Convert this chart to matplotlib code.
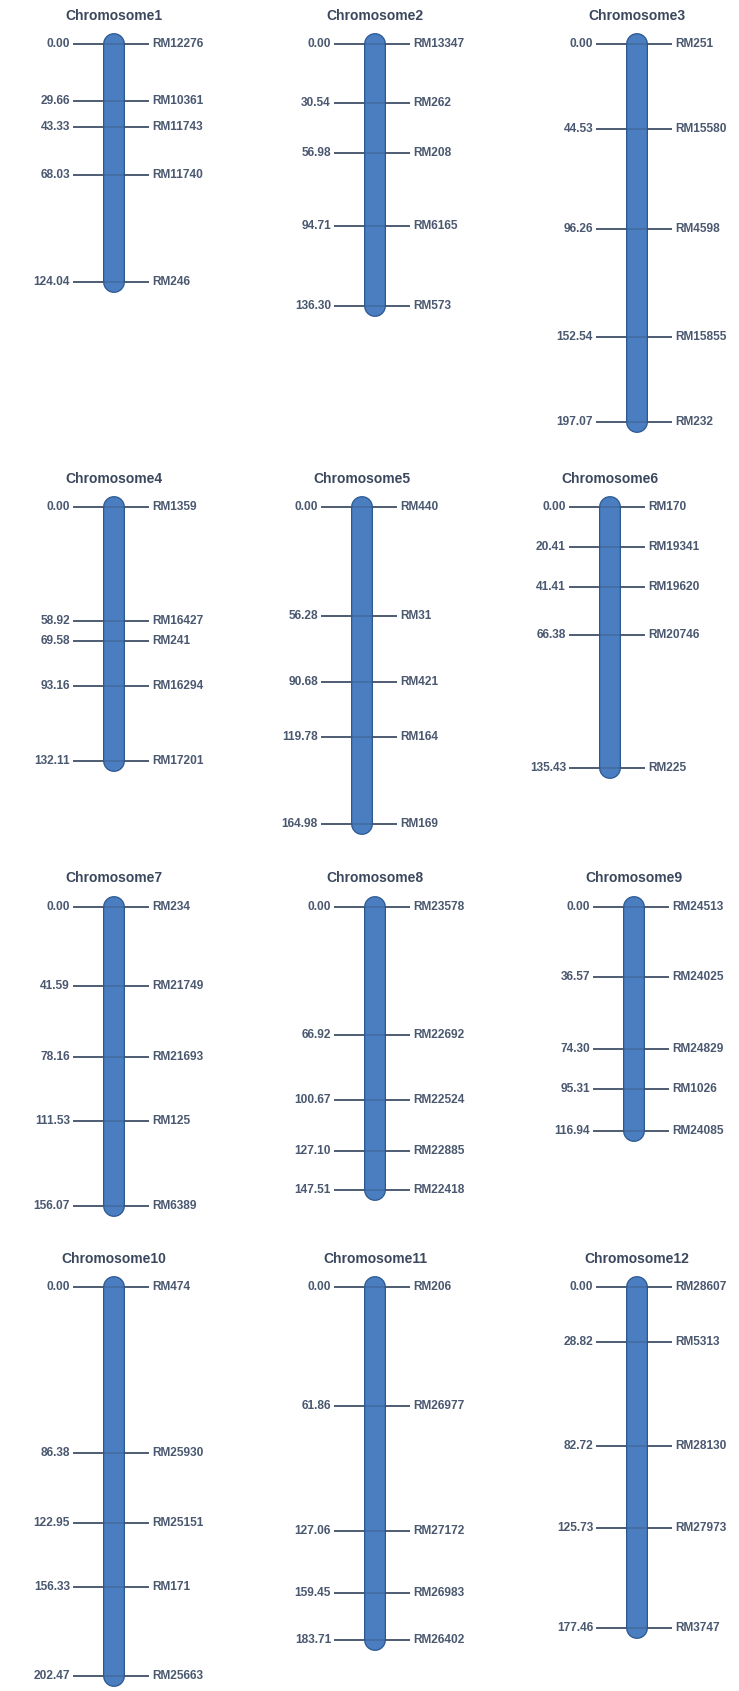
import matplotlib
matplotlib.use("Agg")
import matplotlib.pyplot as plt

# Linkage map data: marker positions (cM) and SSR marker names per chromosome
chrom_names = [f"Chromosome{i}" for i in range(1, 13)]

positions = [
    [0.00, 29.66, 43.33, 68.03, 124.04],
    [0.00, 30.54, 56.98, 94.71, 136.30],
    [0.00, 44.53, 96.26, 152.54, 197.07],
    [0.00, 58.92, 69.58, 93.16, 132.11],
    [0.00, 56.28, 90.68, 119.78, 164.98],
    [0.00, 20.41, 41.41, 66.38, 135.43],
    [0.00, 41.59, 78.16, 111.53, 156.07],
    [0.00, 66.92, 100.67, 127.10, 147.51],
    [0.00, 36.57, 74.30, 95.31, 116.94],
    [0.00, 86.38, 122.95, 156.33, 202.47],
    [0.00, 61.86, 127.06, 159.45, 183.71],
    [0.00, 28.82, 82.72, 125.73, 177.46],
]

markers = [
    ["RM12276", "RM10361", "RM11743", "RM11740", "RM246"],
    ["RM13347", "RM262", "RM208", "RM6165", "RM573"],
    ["RM251", "RM15580", "RM4598", "RM15855", "RM232"],
    ["RM1359", "RM16427", "RM241", "RM16294", "RM17201"],
    ["RM440", "RM31", "RM421", "RM164", "RM169"],
    ["RM170", "RM19341", "RM19620", "RM20746", "RM225"],
    ["RM234", "RM21749", "RM21693", "RM125", "RM6389"],
    ["RM23578", "RM22692", "RM22524", "RM22885", "RM22418"],
    ["RM24513", "RM24025", "RM24829", "RM1026", "RM24085"],
    ["RM474", "RM25930", "RM25151", "RM171", "RM25663"],
    ["RM206", "RM26977", "RM27172", "RM26983", "RM26402"],
    ["RM28607", "RM5313", "RM28130", "RM27973", "RM3747"],
]

# Page layout (pixels, origin top-left)
W, H = 739, 1691
PX_PER_CM = 1.92
col_centers = [
    [114, 375, 637],
    [114, 362, 610],
    [114, 375, 634],
    [114, 375, 637],
]
row_tops = [44, 507.5, 906.5, 1287]

BAR_FILL = "#4a7ec0"
BAR_EDGE = "#2c5890"
LINE_COL = "#34455f"
TEXT_COL = "#4a5870"
TITLE_COL = "#3a475c"
FONT = ["Liberation Sans", "DejaVu Sans"]

fig = plt.figure(figsize=(W / 100, H / 100), dpi=100)
fig.patch.set_facecolor("white")

px = 0.72  # points per pixel at 100 dpi
for idx, name in enumerate(chrom_names):
    r, c = divmod(idx, 3)
    cx = col_centers[r][c]
    y0 = row_tops[r]
    top_px, bot_px = y0 - 42, min(y0 + 400, H)
    ax = fig.add_axes([(cx - 130) / W, 1 - bot_px / H, 260 / W, (bot_px - top_px) / H])
    ax.set_xlim(-130, 130)
    ax.set_ylim((bot_px - y0) / PX_PER_CM, (top_px - y0) / PX_PER_CM)
    ax.axis("off")

    pos = positions[idx]
    length = max(pos)

    # marker ticks
    ax.hlines(pos, -41, 35, colors=LINE_COL, lw=1.7 * px, zorder=1)

    # chromosome body: outline + fill with rounded ends
    ax.plot([0, 0], [0, length], color=BAR_EDGE, lw=22 * px,
            solid_capstyle="round", zorder=2)
    ax.plot([0, 0], [0, length], color=BAR_FILL, lw=19.5 * px,
            solid_capstyle="round", zorder=3)

    # faint tick through the body
    ax.hlines(pos, -10.5, 10.5, colors=LINE_COL, lw=1.5 * px, alpha=0.35, zorder=4)

    for p, m in zip(pos, markers[idx]):
        ax.text(-44, p, f"{p:.2f}", ha="right", va="center", fontsize=8.6,
                fontweight="bold", color=TEXT_COL, family=FONT, clip_on=False)
        ax.text(38, p, m, ha="left", va="center", fontsize=8.6,
                fontweight="bold", color=TEXT_COL, family=FONT, clip_on=False)

    ax.text(0, -28 / PX_PER_CM, name, ha="center", va="center", fontsize=10,
            fontweight="bold", color=TITLE_COL, family=FONT, clip_on=False)

fig.savefig("out.png", dpi=100, facecolor="white")
